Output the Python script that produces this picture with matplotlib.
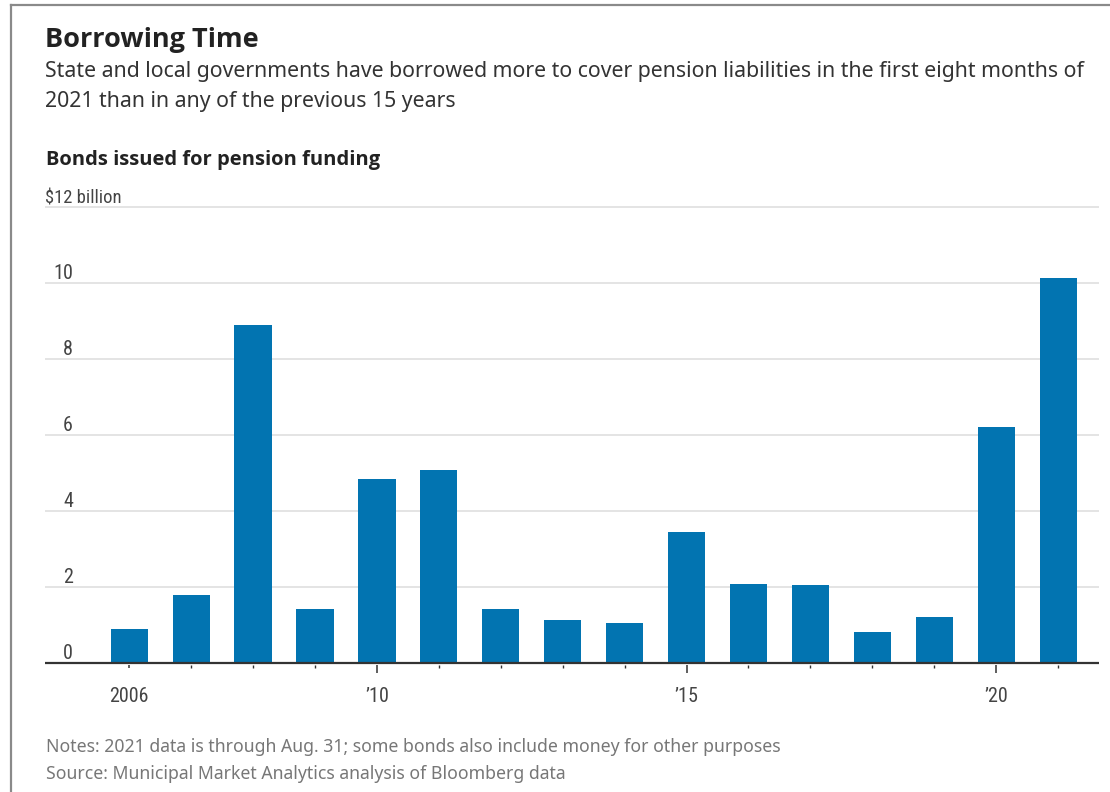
import matplotlib

matplotlib.use("Agg")
import matplotlib.pyplot as plt
from matplotlib import font_manager
from matplotlib.lines import Line2D

# data ($ billion, 2021 through Aug. 31)
years = [2006, 2007, 2008, 2009, 2010, 2011, 2012, 2013,
         2014, 2015, 2016, 2017, 2018, 2019, 2020, 2021]
bonds = [0.90, 1.78, 8.88, 1.42, 4.83, 5.07, 1.42, 1.14,
         1.06, 3.44, 2.09, 2.05, 0.82, 1.21, 6.22, 10.12]
label_years = [2006, 2010, 2015, 2020]
label_text = ["2006", "\u201910", "\u201915", "\u201920"]
y_ticks = [0, 2, 4, 6, 8, 10, 12]
y_labels = ["0", "2", "4", "6", "8", "10", "$12 billion"]

title = "Borrowing Time"
subtitle = ["State and local governments have borrowed more to cover pension liabilities in the first eight months of",
            "2021 than in any of the previous 15 years"]
chart_title = "Bonds issued for pension funding"
notes = "Notes: 2021 data is through Aug. 31; some bonds also include money for other purposes"
source = "Source: Municipal Market Analytics analysis of Bloomberg data"

BLUE = "#0274b1"
W, H = 1110, 792


def has_bold(name):
    return any(f.name == name and f.weight in (600, 700, "bold", "semibold")
               for f in font_manager.fontManager.ttflist)


installed = {f.name for f in font_manager.fontManager.ttflist}
narrow = [f for f in ("Liberation Sans Narrow", "Roboto Condensed") if f in installed]
NARROW = narrow + ["Noto Sans", "DejaVu Sans"]
bold_fams = [f for f in ("Noto Sans", "Open Sans", "Lato", "Roboto") if has_bold(f)]
BOLD = bold_fams[:1] + ["DejaVu Sans"]
plt.rcParams["font.family"] = ["Noto Sans", "DejaVu Sans"]

fig = plt.figure(figsize=(W / 100, H / 100), dpi=100)
fig.patch.set_facecolor("white")

# axes placed in pixel terms: zero line at y=663, 38 px per unit
ax = fig.add_axes([45 / W, 1 - 665 / H, (1099 - 45) / W, (665 - 203) / H])
ax.set_xlim(2004.64, 2021.66)
ax.set_ylim(-0.05, 12.1)

ax.bar(years, bonds, width=0.6, color=BLUE, zorder=2)

for s in ax.spines.values():
    s.set_visible(False)
ax.set_yticks(y_ticks)
ax.yaxis.grid(True, color="#dddddd", lw=1.1, zorder=0)
ax.tick_params(axis="y", length=0, labelleft=False)
ax.axhline(0, color="#333333", lw=1.6, zorder=3)

ytr = ax.get_yaxis_transform()
for v, lab in zip(y_ticks, y_labels):
    if v == 12:
        ax.text(0.0, v + 0.09, lab, transform=ytr, ha="left", va="baseline",
                fontsize=13.3, color="#444444", family=NARROW)
    else:
        ax.text(0.0265, v + 0.11, lab, transform=ytr, ha="right", va="baseline",
                fontsize=14.5, color="#444444", family=NARROW)

ax.set_xticks(label_years)
ax.set_xticklabels(label_text, family=NARROW, fontsize=14.5, color="#444444")
ax.set_xticks(years, minor=True)
ax.tick_params(axis="x", which="major", length=6, width=1.1, color="#333333", pad=10)
ax.tick_params(axis="x", which="minor", length=2.5, width=1, color="#333333")
ax.xaxis.get_major_ticks()[0].tick1line.set_markersize(2.5)

fig.text(45 / W, 1 - 46.7 / H, title, fontsize=19.5, fontweight="bold",
         family=BOLD, color="#222222", va="baseline")
fig.text(45 / W, 1 - 77.3 / H, subtitle[0], fontsize=15.3, color="#333333", va="baseline")
fig.text(45 / W, 1 - 107.3 / H, subtitle[1], fontsize=15.3, color="#333333", va="baseline")
fig.text(46 / W, 1 - 165 / H, chart_title, fontsize=14.5, fontweight="bold",
         family=BOLD, color="#222222", va="baseline")
fig.text(45.5 / W, 1 - 751.8 / H, notes, fontsize=12.7, color="#777777", va="baseline")
fig.text(45.5 / W, 1 - 778.6 / H, source, fontsize=12.7, color="#777777", va="baseline")

# grey frame on the left and top edges
fig.add_artist(Line2D([11 / W, 11 / W], [0, 1 - 5 / H], color="#8a8a8a", lw=1.6,
                      transform=fig.transFigure))
fig.add_artist(Line2D([11 / W, 1], [1 - 5 / H, 1 - 5 / H], color="#8a8a8a", lw=1.6,
                      transform=fig.transFigure))

fig.savefig("out.png", dpi=100)
